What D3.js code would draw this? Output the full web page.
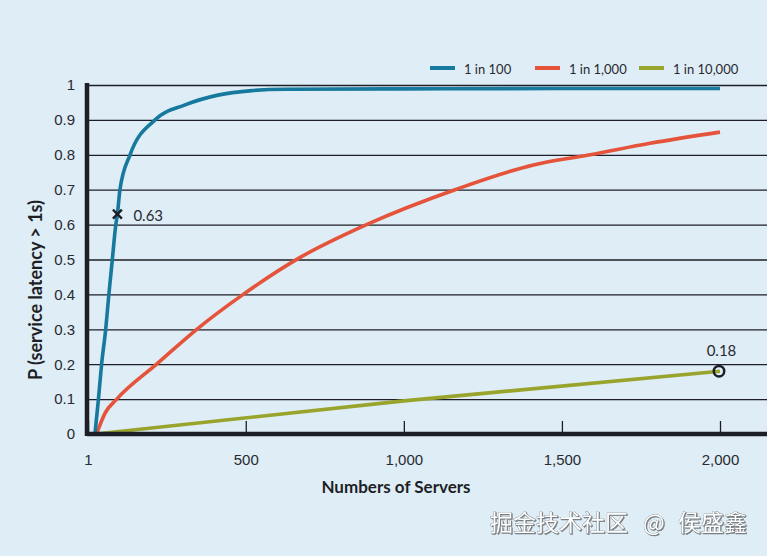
<!DOCTYPE html>
<html><head><meta charset="utf-8">
<script src="https://cdn.jsdelivr.net/npm/d3@7"></script>
<style>
html,body{margin:0;padding:0;background:#deedf6;}
svg{display:block;font-family:Lato,"Open Sans",sans-serif;}
</style></head><body>
<script>
const seriesNames = ["1 in 100", "1 in 1,000", "1 in 10,000"];
const seriesColors = ["#17799d", "#e4533a", "#98a42b"];
const blueN = [23,34,44,57,67,78,89,94,102,134,213,308,412,520,624,1000,1500,2000];
const blueV = [0,0.1,0.2,0.3,0.4,0.5,0.6,0.63,0.7,0.8,0.9,0.943,0.971,0.984,0.988,0.989,0.99,0.99];
const redN = [28,55,92,218,345,492,672,882,1162,1410,1589,1779,2000];
const redV = [0,0.06,0.1,0.2,0.3,0.4,0.506,0.6,0.7,0.771,0.8,0.833,0.865];
const greenN = [26,1000,2000];
const greenV = [0,0.095,0.18];
const yTicks = [0,0.1,0.2,0.3,0.4,0.5,0.6,0.7,0.8,0.9,1];
const xTicks = [1,500,1000,1500,2000];
const xTickLabels = ["1","500","1,000","1,500","2,000"];
const markX = {n:94, v:0.63, label:"0.63"};
const markO = {n:2000, v:0.18, label:"0.18"};

const W = 767, H = 556;
const svg = d3.select("body").append("svg").attr("width", W).attr("height", H);
svg.append("rect").attr("width", W).attr("height", H).attr("fill", "#deedf6");

const x = d3.scaleLinear().domain([1,2000]).range([88,720]);
const y = d3.scaleLinear().domain([0,1]).range([434,85]);
const ink = "#1e1f26";
const txt = "#2a2a30";

// y axis + grid
const gy = svg.append("g").attr("transform","translate(88,0)")
  .call(d3.axisLeft(y).tickValues(yTicks).tickSizeInner(-(W-88)).tickSizeOuter(0).tickPadding(13)
    .tickFormat(d3.format("~g")));
gy.select(".domain").remove();
gy.selectAll(".tick line").attr("stroke", ink).attr("stroke-width", 1.3);
gy.selectAll(".tick text").attr("font-size", 15).attr("fill", txt);

// x axis
const gx = svg.append("g").attr("transform","translate(0,434)")
  .call(d3.axisBottom(x).tickValues(xTicks).tickSizeInner(-13).tickSizeOuter(0).tickPadding(20)
    .tickFormat((d,i)=>xTickLabels[i]));
gx.select(".domain").remove();
gx.selectAll(".tick line").attr("stroke", ink).attr("stroke-width", 1.3);
gx.selectAll(".tick text").attr("font-size", 15).attr("fill", txt);

// series
const line = d3.line().x(d=>x(d[0])).y(d=>y(d[1])).curve(d3.curveMonotoneX);
const series = [
  blueN.map((n,i)=>[n,blueV[i]]),
  redN.map((n,i)=>[n,redV[i]]),
  greenN.map((n,i)=>[n,greenV[i]])
];
[2,1,0].forEach(i=>{
  svg.append("path").datum(series[i]).attr("d", line).attr("fill","none")
    .attr("stroke", seriesColors[i]).attr("stroke-width", 3.6).attr("stroke-linecap","butt");
});

// axes lines (thick)
svg.append("line").attr("x1",87).attr("x2",W).attr("y1",434).attr("y2",434).attr("stroke",ink).attr("stroke-width",4.5);
svg.append("line").attr("x1",87).attr("x2",87).attr("y1",83).attr("y2",436).attr("stroke",ink).attr("stroke-width",4.5);

// annotations
const mx = x(markX.n), my = y(markX.v);
svg.append("path").attr("d",`M${mx-4.5},${my-4.5}L${mx+4.5},${my+4.5}M${mx+4.5},${my-4.5}L${mx-4.5},${my+4.5}`)
  .attr("stroke", ink).attr("stroke-width", 2.4);
svg.append("text").attr("x", mx+16).attr("y", my+7).attr("font-size",15).attr("fill",txt).text(markX.label);
const ox = x(markO.n)-1, oy = y(markO.v);
svg.append("circle").attr("cx",ox).attr("cy",oy).attr("r",5.2).attr("fill","none").attr("stroke",ink).attr("stroke-width",2.5);
svg.append("text").attr("x", ox+2.5).attr("y", oy-15).attr("text-anchor","middle").attr("font-size",15).attr("fill",txt).text(markO.label);

// legend
const legX = [430, 535, 639];
seriesNames.forEach((s,i)=>{
  svg.append("line").attr("x1",legX[i]).attr("x2",legX[i]+25).attr("y1",68).attr("y2",68)
    .attr("stroke",seriesColors[i]).attr("stroke-width",4);
  svg.append("text").attr("x",legX[i]+34).attr("y",74).attr("font-size",13).attr("fill",txt).text(s);
});

// titles
svg.append("text").attr("transform","translate(42,290) rotate(-90)").attr("text-anchor","middle")
  .attr("font-size",18).attr("font-weight","bold").attr("fill",ink).text("P (service latency > 1s)");
svg.append("text").attr("x",396).attr("y",493).attr("text-anchor","middle")
  .attr("font-size",17).attr("font-weight","bold").attr("fill",ink).text("Numbers of Servers");

// watermark
const wm = svg.append("text").attr("y",531).attr("font-size",23)
  .attr("font-family","'Noto Sans CJK SC', sans-serif").attr("fill","#ffffff")
  .attr("stroke","#6a6f74").attr("stroke-width",0.6).attr("paint-order","stroke")
  .style("filter","drop-shadow(1px 1px 0.5px rgba(60,60,60,0.6))");
wm.append("tspan").attr("x",490).text("掘金技术社区");
wm.append("tspan").attr("x",643).text("@");
wm.append("tspan").attr("x",678).text("侯盛鑫");
</script>
</body></html>
